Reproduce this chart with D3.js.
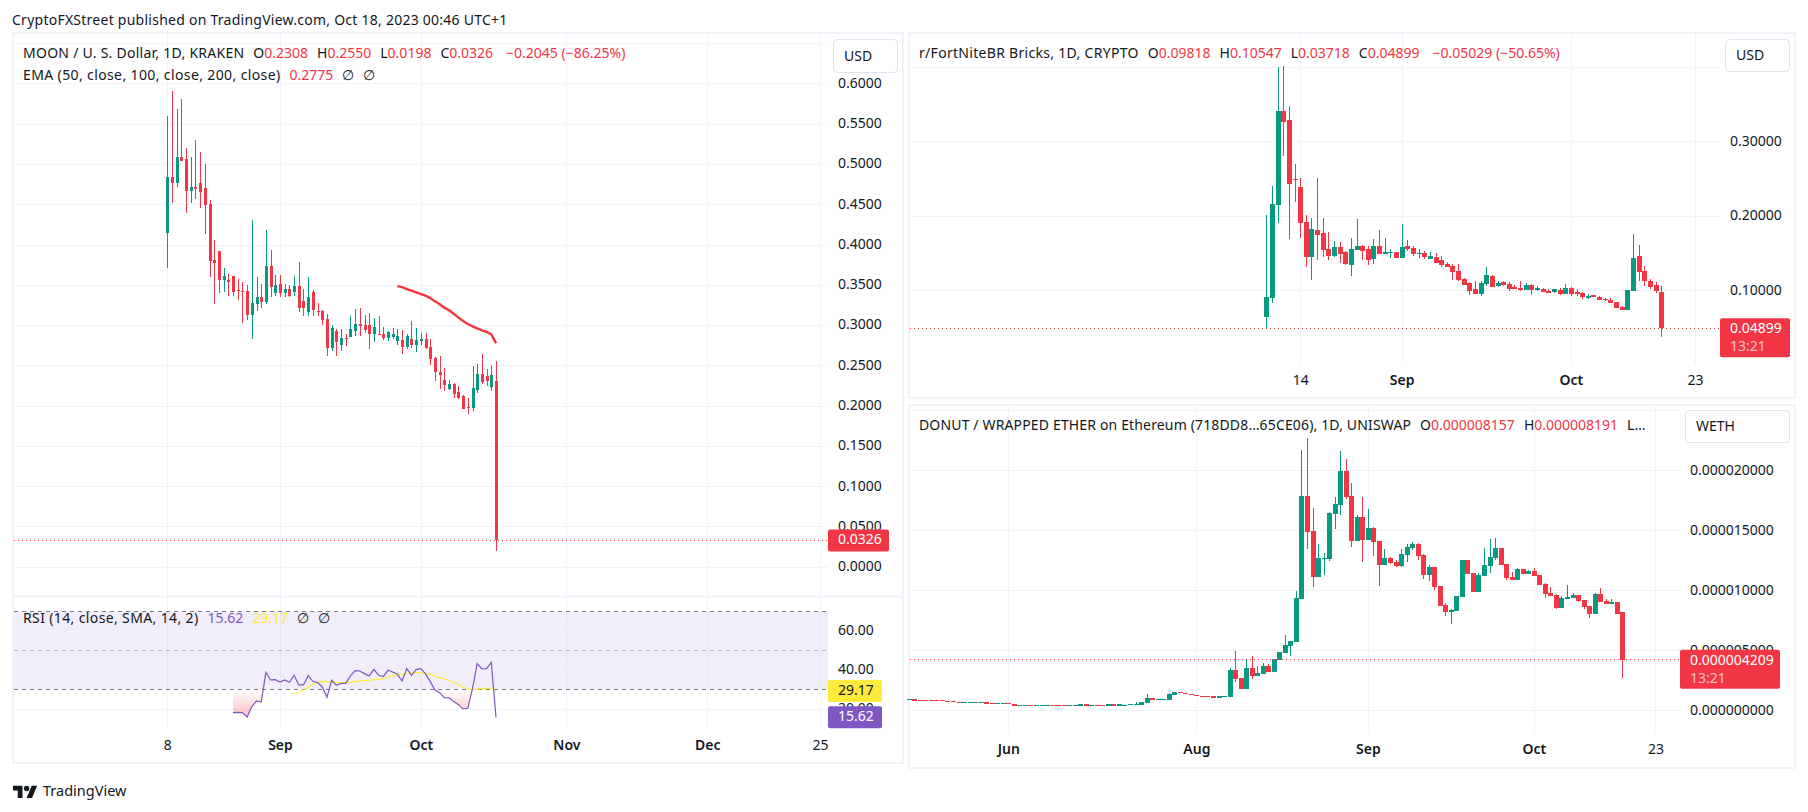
<!DOCTYPE html>
<html lang="en">
<head>
<meta charset="UTF-8">
<title>MOON, Bricks and DONUT daily charts</title>
<script src="https://d3js.org/d3.v7.min.js"></script>
<style>
  html, body { margin: 0; background: #fff; }
  svg { display: block; font-family: "Noto Sans", sans-serif; }
  text { fill: #131722; font-size: 14px; }
</style>
</head>
<body>
<svg id="chart" width="1808" height="812"></svg>
<script>
// MOON / USD, bar 0 = Aug 8
const moonOpen = [.4141,.4843,.4761,.5091,.5066,.4661,.4719,.4769,.4707,.4508,.3802,.3914,.3554,.3554,.3604,.3430,.3418,.3418,.3121,.3257,.3344,.3282,.3728,.3393,.3505,.3393,.3443,.3406,.3480,.3294,.3158,.3406,.3170,.3170,.3071,.2712,.2923,.2749,.2836,.2848,.2923,.3009,.2997,.2997,.2885,.2885,.2885,.2836,.2848,.2799,.2811,.2724,.2824,.2749,.2799,.2824,.2724,.2588,.2415,.2316,.2204,.2266,.2167,.2117,.1981,.1969,.2192,.2390,.2365,.2229,.2308];
const moonHigh = [.5599,.5909,.5682,.5806,.5199,.5083,.5298,.5149,.5000,.4554,.4050,.3914,.3703,.3629,.3604,.3567,.3530,.3492,.4310,.3592,.3505,.4182,.3926,.3616,.3616,.3505,.3492,.3604,.3777,.3443,.3592,.3430,.3269,.3182,.3133,.2997,.2947,.2947,.2885,.3108,.3195,.3207,.3121,.3145,.3084,.3108,.2972,.2923,.2960,.2947,.2935,.2885,.3046,.2960,.2898,.2898,.2824,.2601,.2613,.2464,.2316,.2278,.2241,.2130,.2092,.2489,.2514,.2638,.2452,.2501,.2550];
const moonLow = [.3707,.4513,.4711,.5033,.4389,.4513,.4566,.4451,.4133,.3595,.3257,.3397,.3406,.3360,.3356,.3307,.3026,.3059,.2828,.3174,.3207,.3257,.3348,.3356,.3344,.3344,.3344,.3356,.3158,.3108,.3108,.3108,.3108,.2997,.2613,.2675,.2613,.2675,.2737,.2848,.2861,.2861,.2898,.2700,.2786,.2873,.2811,.2799,.2824,.2749,.2638,.2700,.2712,.2662,.2749,.2700,.2501,.2303,.2204,.2179,.2192,.2092,.2080,.1956,.1894,.1931,.2154,.2266,.2241,.2179,.0198];
const moonClose = [.4843,.4761,.5091,.5042,.4661,.4719,.4694,.4649,.4496,.3794,.3769,.3554,.3604,.3530,.3406,.3418,.3406,.3121,.3269,.3344,.3282,.3728,.3467,.3492,.3393,.3443,.3356,.3480,.3207,.3207,.3344,.3182,.3158,.3059,.2712,.2960,.2786,.2836,.2824,.2947,.3009,.2985,.2935,.2885,.2972,.2873,.2836,.2910,.2885,.2861,.2724,.2861,.2749,.2811,.2824,.2712,.2576,.2415,.2378,.2254,.2266,.2142,.2092,.1956,.1969,.2216,.2390,.2291,.2303,.2378,.0326];
// EMA 50 starts at bar 49
const moonEma = [.3484,.3472,.3447,.3426,.3406,.3385,.3364,.3335,.3294,.3257,.3216,.3183,.3141,.3092,.3051,.3013,.2984,.2960,.2935,.2914,.2885,.2775];
// RSI starts at bar 14, its average at bar 27
const moonRsi = [18.03,18.21,18.03,15.81,21.11,24.02,23.50,38.72,34.79,34.96,33.76,34.79,33.59,37.18,32.22,32.22,37.01,34.10,33.42,31.20,25.90,34.62,32.05,33.08,33.08,36.84,39.57,39.40,38.03,36.84,40.26,37.18,36.50,39.74,38.89,37.69,34.27,40.60,37.18,40.09,40.60,37.86,33.93,29.66,28.29,25.73,25.56,23.68,22.14,19.91,20.26,30.51,43.16,40.43,40.60,43.85,15.62];
const moonRsiMa = [27.61,28.46,29.66,31.03,32.74,33.42,33.93,33.93,33.76,33.42,33.42,33.59,33.76,34.10,34.27,34.44,34.62,34.96,35.13,35.30,36.32,36.84,37.18,37.69,38.03,38.38,38.55,38.55,38.21,37.52,36.67,35.98,35.30,34.62,33.59,32.39,31.03,30.34,29.66,30.17,30.34,30.51,30.51,29.17];
const moonPriceTicks = [0,.05,.1,.15,.2,.25,.3,.35,.4,.45,.5,.55,.6,.65];
const moonRsiTicks = [20,40,60];
const moonTimeBars = [0,24,54,85,115,139];
const moonTimeLabels = ["8","Sep","Oct","Nov","Dec","25"];

// r/FortNiteBR Bricks, bar 0 = Aug 8
const bricksOpen = [.0641,.0896,.2148,.3413,.3292,.2498,.2390,.1919,.1448,.1812,.1771,.1556,.1462,.1583,.1515,.1340,.1542,.1596,.1556,.1421,.1596,.1488,.1502,.1515,.1435,.1596,.1569,.1488,.1502,.1421,.1448,.1408,.1354,.1327,.1260,.1152,.1098,.1017,.0950,.1085,.1192,.1058,.1112,.1085,.1044,.1031,.1004,.1071,.1004,.1017,.0991,.0977,.1004,.0950,.1031,.0977,.0964,.0896,.0937,.0910,.0883,.0869,.0842,.0775,.0735,.0991,.1462,.1260,.1125,.1071,.09818];
const bricksHigh = [.2013,.2404,.3992,.4010,.3480,.2700,.2511,.2013,.1973,.2511,.1973,.1785,.1663,.1650,.1529,.1704,.1960,.1610,.1596,.1690,.1812,.1704,.1556,.1515,.1892,.1677,.1596,.1556,.1529,.1515,.1502,.1462,.1381,.1354,.1354,.1166,.1112,.1125,.1125,.1314,.1206,.1125,.1125,.1112,.1071,.1125,.1098,.1085,.1058,.1031,.1017,.1017,.1031,.1085,.1044,.1017,.0977,.0950,.0937,.0923,.0896,.0896,.0842,.0789,.1004,.1758,.1610,.1327,.1152,.1112,.10547];
const bricksLow = [.0488,.0829,.1906,.2808,.1690,.2188,.1704,.1314,.1139,.1408,.1448,.1408,.1448,.1367,.1340,.1192,.1542,.1408,.1340,.1354,.1488,.1488,.1435,.1435,.1435,.1529,.1462,.1435,.1421,.1421,.1367,.1314,.1314,.1139,.1125,.1071,.0937,.0950,.0923,.1058,.1044,.1044,.1058,.0991,.1017,.0991,.1004,.0937,.0991,.0977,.0964,.0964,.0937,.0950,.0923,.0923,.0883,.0883,.0910,.0869,.0856,.0829,.0762,.0735,.0735,.0991,.1125,.1058,.1017,.0964,.03718];
const bricksClose = [.0910,.2162,.3413,.3265,.2431,.2475,.1906,.1448,.1825,.1744,.1542,.1462,.1583,.1488,.1354,.1556,.1596,.1529,.1408,.1596,.1488,.1515,.1515,.1435,.1583,.1556,.1488,.1502,.1448,.1462,.1367,.1340,.1314,.1246,.1139,.1071,.0991,.0950,.1098,.1206,.1044,.1098,.1071,.1017,.1017,.1004,.1071,.1004,.1031,.0977,.0964,.1017,.0950,.1031,.0950,.0950,.0910,.0923,.0910,.0869,.0869,.0829,.0762,.0735,.1004,.1435,.1246,.1125,.1044,.0991,.04899];
const bricksPriceTicks = [.1,.2,.3,.4];
const bricksTimeBars = [6,24,54,76];
const bricksTimeLabels = ["14","Sep","Oct","23"];

// DONUT / WETH in millionths of a WETH, bars are trading days only (bar 129 = Oct 17)
const donutOpen = [.89,.92,.86,.86,.86,.86,.86,.81,.78,.69,.64,.64,.64,.64,.67,.61,.56,.56,.61,.53,.39,.39,.44,.39,.39,.39,.44,.44,.44,.39,.39,.39,.53,.39,.44,.44,.39,.53,.39,.42,.44,.47,.44,.64,1.00,.89,.89,.89,1.28,1.50,1.42,1.36,1.28,1.22,1.22,1.19,1.06,1.14,1.14,3.36,2.69,1.78,3.53,2.86,3.03,3.69,3.19,4.19,4.78,5.36,5.69,9.28,17.86,14.94,11.11,12.61,12.61,16.36,17.11,19.94,17.86,14.11,16.11,14.19,15.19,14.11,12.11,12.69,12.36,12.03,12.94,13.53,13.86,12.94,11.28,11.94,10.36,8.78,8.19,8.28,9.44,12.53,11.44,9.86,11.19,12.03,12.69,13.53,12.19,11.11,10.86,11.78,11.36,11.61,11.28,10.53,9.78,9.61,8.53,9.28,9.36,9.61,9.19,8.69,8.03,9.69,9.11,8.86,9.03,8.157];
const donutHigh = [.92,.92,.86,.86,.86,.86,.86,.81,.78,.69,.67,.67,.69,.67,.67,.61,.58,.58,.61,.53,.42,.42,.44,.42,.42,.42,.44,.44,.44,.42,.42,.53,.53,.42,.44,.44,.53,.53,.53,.47,.50,.69,.67,1.36,1.00,.92,.94,1.42,1.50,1.50,1.42,1.36,1.28,1.22,1.22,1.19,1.19,1.19,3.53,4.94,2.69,4.28,4.53,3.69,3.92,3.86,4.28,4.86,6.28,5.78,9.94,21.69,22.67,16.86,13.86,13.11,16.53,17.78,21.61,20.94,18.94,16.28,17.78,16.78,15.28,14.11,13.44,12.78,12.53,13.44,13.86,14.03,13.94,13.03,12.11,11.94,10.36,8.94,8.44,9.53,12.53,12.53,11.44,11.44,13.53,14.28,14.36,13.53,12.19,11.53,11.86,11.78,11.69,11.86,11.28,10.61,10.28,9.69,9.53,10.44,9.78,9.61,9.19,8.69,9.78,10.19,9.28,9.28,9.03,8.191];
const donutLow = [.89,.81,.83,.83,.83,.83,.75,.75,.67,.64,.64,.64,.64,.64,.56,.56,.56,.56,.50,.39,.39,.39,.39,.39,.39,.39,.39,.39,.39,.39,.39,.39,.39,.39,.39,.39,.39,.39,.39,.42,.44,.47,.44,.64,.89,.89,.89,.89,1.28,1.42,1.33,1.25,1.17,1.17,1.17,1.06,1.06,1.14,1.14,2.39,1.78,1.78,2.61,2.86,3.03,3.19,3.19,4.19,4.78,4.53,5.69,9.28,13.44,10.28,11.11,11.28,12.44,15.11,16.28,17.61,13.61,14.11,12.36,14.19,12.86,10.36,12.11,12.19,11.94,11.94,12.36,13.36,12.53,10.94,10.78,10.03,8.69,7.86,7.19,8.28,9.44,11.36,9.86,9.86,11.19,11.44,12.53,12.11,10.86,10.86,10.86,11.36,11.36,11.19,10.44,9.36,9.53,8.44,8.53,9.28,9.36,9.03,8.44,7.69,8.03,9.03,8.86,8.86,8.03,2.69];
const donutClose = [.92,.81,.83,.83,.83,.83,.75,.75,.67,.64,.67,.67,.69,.67,.56,.56,.58,.58,.50,.39,.42,.42,.39,.42,.42,.42,.39,.39,.39,.42,.42,.53,.39,.42,.39,.39,.53,.39,.53,.47,.50,.50,.67,1.03,.89,.92,.94,1.36,1.50,1.42,1.33,1.25,1.17,1.17,1.17,1.06,1.19,1.19,3.36,2.64,1.78,3.53,2.86,3.11,3.69,3.19,4.28,4.86,5.44,5.78,9.36,17.86,14.86,11.11,12.69,12.69,16.44,17.19,19.94,17.78,14.11,16.11,14.19,15.19,14.03,12.11,12.69,12.28,12.03,13.03,13.61,13.86,12.86,11.28,11.94,10.28,8.69,8.19,8.36,9.53,12.53,11.36,9.86,11.28,12.11,12.78,13.53,12.11,11.03,10.86,11.78,11.36,11.61,11.19,10.44,9.69,9.53,8.53,9.36,9.44,9.61,9.11,8.61,8.03,9.69,9.03,8.86,9.03,8.03,4.209];
const donutPriceTicks = [0,5,10,15,20,25];
const donutTimeBars = [18,52,83,113,135];
const donutTimeLabels = ["Jun","Aug","Sep","Oct","23"];

const UP = "#089981", DOWN = "#f23645", GRID = "#f0f3fa", INK = "#131722";
const svg = d3.select("#chart");

function panel(x0, y0, x1, y1) {
  svg.append("rect").attr("x", x0).attr("y", y0).attr("width", x1 - x0).attr("height", y1 - y0)
    .attr("fill", "#fff").attr("stroke", GRID).attr("stroke-width", 2);
}

// grid and labels of a pane come from the axes, the tick line is the grid line
function priceAxis(y, ticks, fmt, paneL, paneR, pad) {
  const g = svg.append("g").attr("transform", `translate(${paneR},0)`)
    .call(d3.axisRight(y).tickValues(ticks).tickFormat(fmt).tickSize(paneL - paneR).tickPadding(pad));
  g.select(".domain").remove();
  g.selectAll("line").attr("stroke", GRID).attr("shape-rendering", "crispEdges");
  g.selectAll("text").attr("dy", ".28em").style("fill", INK).style("font-family", "Noto Sans").style("font-size", "14px");
}

function timeAxis(x, bars, labels, top, bottom, pad) {
  const g = svg.append("g").attr("transform", `translate(0,${bottom})`)
    .call(d3.axisBottom(x).tickValues(bars).tickFormat((d, i) => labels[i]).tickSize(top - bottom).tickPadding(pad));
  g.select(".domain").remove();
  g.selectAll("line").attr("stroke", GRID).attr("shape-rendering", "crispEdges");
  g.selectAll("text").attr("dy", ".71em").style("fill", INK).style("font-family", "Noto Sans").style("font-size", "14px")
    .style("font-weight", d => isNaN(labels[bars.indexOf(d)]) ? 600 : 400);
}

function candles(x, y, open, high, low, close, bodyW) {
  const rows = open.map((o, i) => ({ i, o, h: high[i], l: low[i], c: close[i] }));
  const g = svg.append("g").attr("shape-rendering", "crispEdges");
  const col = d => d.c >= d.o ? UP : DOWN;
  g.selectAll("line").data(rows).join("line")
    .attr("x1", d => Math.round(x(d.i))).attr("x2", d => Math.round(x(d.i)))
    .attr("y1", d => y(d.h)).attr("y2", d => y(d.l))
    .attr("stroke", col).attr("stroke-width", 1);
  g.selectAll("rect").data(rows).join("rect")
    .attr("x", d => Math.round(x(d.i)) - Math.floor(bodyW / 2))
    .attr("width", bodyW)
    .attr("y", d => y(Math.max(d.o, d.c)))
    .attr("height", d => Math.max(1, Math.abs(y(d.o) - y(d.c))))
    .attr("fill", col);
}

function priceLine(x0, x1, yPos) {
  svg.append("line").attr("x1", x0).attr("x2", x1).attr("y1", yPos).attr("y2", yPos)
    .attr("stroke", DOWN).attr("stroke-dasharray", "1 3").attr("shape-rendering", "crispEdges");
}

function tag(x0, x1, yPos, h, fill, txt, txtColor, textX, sub) {
  svg.append("rect").attr("x", x0).attr("y", yPos).attr("width", x1 - x0).attr("height", h)
    .attr("rx", 2).attr("fill", fill);
  svg.append("text").attr("x", textX).attr("y", yPos + 15).style("fill", txtColor).text(txt);
  if (sub) svg.append("text").attr("x", textX).attr("y", yPos + 33).style("fill", "rgba(255,255,255,.7)").text(sub);
}

function button(x0, x1, y0, y1, txt, textX) {
  svg.append("rect").attr("x", x0 + .5).attr("y", y0 + .5).attr("width", x1 - x0).attr("height", y1 - y0)
    .attr("rx", 4).attr("fill", "#fff").attr("stroke", "#e0e3eb");
  svg.append("text").attr("x", textX).attr("y", (y0 + y1) / 2 + 5).text(txt);
}

// parts: [text, colour, gap before, letter spacing]
function legend(xPos, yPos, parts) {
  const t = svg.append("text").attr("x", xPos).attr("y", yPos);
  parts.forEach(p => t.append("tspan").attr("dx", p[2] || 0).style("fill", p[1] || INK)
    .style("letter-spacing", (p[3] || 0) + "px").text(p[0]));
}

function ohlc(o, h, l, c) {
  return [["O", INK, 9], [o, DOWN], ["H", INK, 9], [h, DOWN], ["L", INK, 9], [l, DOWN], ["C", INK, 9], [c, DOWN]];
}

// ---- header and footer
svg.append("text").attr("x", 12).attr("y", 25).style("letter-spacing", ".25px")
  .text("CryptoFXStreet published on TradingView.com, Oct 18, 2023 00:46 UTC+1");
const logo = svg.append("g").attr("transform", "translate(13,783) scale(.68)").attr("fill", INK);
logo.append("path").attr("d", "M14 22H7V11H0V4h14v18zM28 22h-8l7.5-18h8L28 22z");
logo.append("circle").attr("cx", 20).attr("cy", 8).attr("r", 4);
svg.append("text").attr("x", 43).attr("y", 796).style("font-size", "14.5px").text("TradingView");

// ---- MOON
panel(13, 33, 903, 763);
const moonX = d3.scaleLinear().domain([0, 139]).range([167.3, 820]);
const moonY = d3.scaleLinear().domain([0, .6]).range([566.7, 83.4]);
const rsiY = d3.scaleLinear().domain([30, 70]).range([689.3, 611.3]);
timeAxis(moonX, moonTimeBars, moonTimeLabels, 34, 728, 12);
svg.append("rect").attr("x", 14).attr("y", rsiY(70)).attr("width", 814).attr("height", rsiY(30) - rsiY(70))
  .attr("fill", "#7e57c2").attr("fill-opacity", .1);
priceAxis(moonY, moonPriceTicks, d => d > .6 ? "" : d3.format(".4f")(d), 14, 828, 10);
svg.append("line").attr("x1", 14).attr("x2", 903).attr("y1", 596.5).attr("y2", 596.5).attr("stroke", GRID).attr("stroke-width", 2);
priceAxis(rsiY, moonRsiTicks, d3.format(".2f"), 14, 828, 10);
[[70, "#787b86"], [50, "#b9bbc2"], [30, "#787b86"]].forEach(([v, c]) => {
  svg.append("line").attr("x1", 14).attr("x2", 828).attr("y1", rsiY(v)).attr("y2", rsiY(v))
    .attr("stroke", c).attr("stroke-dasharray", "4 4").attr("shape-rendering", "crispEdges");
});

candles(moonX, moonY, moonOpen, moonHigh, moonLow, moonClose, 3);
svg.append("path").attr("fill", "none").attr("stroke", "#f8333c").attr("stroke-width", 2.4)
  .attr("d", d3.line().x((d, i) => moonX(i + 49)).y(d => moonY(d))(moonEma));
priceLine(14, 828, moonY(moonClose[moonClose.length - 1]));

// oversold fill between 30 and the RSI line
const defs = svg.append("defs");
defs.append("clipPath").attr("id", "oversold").append("rect")
  .attr("x", 14).attr("y", rsiY(30)).attr("width", 814).attr("height", 39);
const grad = defs.append("linearGradient").attr("id", "oversoldFill")
  .attr("x1", 0).attr("x2", 0).attr("gradientUnits", "userSpaceOnUse")
  .attr("y1", rsiY(30)).attr("y2", rsiY(15));
grad.append("stop").attr("offset", 0).attr("stop-color", DOWN).attr("stop-opacity", 0);
grad.append("stop").attr("offset", 1).attr("stop-color", DOWN).attr("stop-opacity", .35);
svg.append("path").attr("clip-path", "url(#oversold)").attr("fill", "url(#oversoldFill)")
  .attr("d", d3.area().x((d, i) => moonX(i + 14)).y0(rsiY(30)).y1(d => rsiY(d))(moonRsi.slice(0, 56)));
svg.append("path").attr("fill", "none").attr("stroke", "#ffeb3b").attr("stroke-width", 1.2)
  .attr("d", d3.line().x((d, i) => moonX(i + 27)).y(d => rsiY(d))(moonRsiMa));
svg.append("path").attr("fill", "none").attr("stroke", "#7e57c2").attr("stroke-width", 1.2)
  .attr("d", d3.line().x((d, i) => moonX(i + 14)).y(d => rsiY(d))(moonRsi));

legend(23, 58, [["MOON / U. S. Dollar, 1D, KRAKEN", INK, 0, .26], ...ohlc("0.2308", "0.2550", "0.0198", "0.0326"), ["−0.2045 (−86.25%)", DOWN, 13]]);
legend(23, 80, [["EMA (50, close, 100, close, 200, close)", INK, 0, .38], ["0.2775", DOWN, 9], ["∅", INK, 9], ["∅", INK, 9]]);
legend(23, 623, [["RSI (14, close, SMA, 14, 2)", INK, 0, .37], ["15.62", "#7e57c2", 9], ["29.17", "#ffeb3b", 9], ["∅", INK, 9], ["∅", INK, 9]]);
button(833, 897, 39, 72, "USD", 844);
tag(828, 889, moonY(.0326) - 11, 22, DOWN, "0.0326", "#fff", 838);
tag(828, 882, rsiY(29.17) - 11, 22, "#ffeb3b", "29.17", INK, 838);
tag(828, 882, rsiY(15.62) - 11, 22, "#7e57c2", "15.62", "#fff", 838);

// ---- Bricks
panel(909, 33, 1795, 398);
const bricksX = d3.scaleLinear().domain([0, 76]).range([1266.3, 1695]);
const bricksY = d3.scaleLinear().domain([.1, .3]).range([290.2, 141.3]);
timeAxis(bricksX, bricksTimeBars, bricksTimeLabels, 34, 364, 11);
priceAxis(bricksY, bricksPriceTicks, d => d > .3 ? "" : d3.format(".5f")(d), 910, 1720, 10);
candles(bricksX, bricksY, bricksOpen, bricksHigh, bricksLow, bricksClose, 5);
priceLine(910, 1720, bricksY(.04899));
legend(919, 58, [["r/FortNiteBR Bricks, 1D, CRYPTO", INK, 0, .3], ...ohlc("0.09818", "0.10547", "0.03718", "0.04899"), ["−0.05029 (−50.65%)", DOWN, 13]]);
button(1725, 1789, 39, 71, "USD", 1736);
tag(1720, 1790, bricksY(.04899) - 10, 39, DOWN, "0.04899", "#fff", 1730, "13:21");

// ---- DONUT
panel(909, 405, 1795, 768);
const donutX = d3.scaleLinear().domain([129, 113]).range([1622.3, 1533.8]);
const donutY = d3.scaleLinear().domain([0, 20]).range([710.3, 470.3]);
timeAxis(donutX, donutTimeBars, donutTimeLabels, 406, 733, 11);
priceAxis(donutY, donutPriceTicks, d => d > 20 ? "" : d3.format(".9f")(d * 1e-6), 910, 1680, 10);
candles(donutX, donutY, donutOpen, donutHigh, donutLow, donutClose, 5);
priceLine(910, 1680, donutY(4.209));
legend(919, 430, [["DONUT / WRAPPED ETHER on Ethereum (718DD8…65CE06), 1D, UNISWAP", INK, 0, .15], ["O", INK, 9], ["0.000008157", DOWN], ["H", INK, 9], ["0.000008191", DOWN], ["L…", INK, 9]]);
button(1685, 1789, 410, 442, "WETH", 1696);
tag(1680, 1780, donutY(4.209) - 10, 39, DOWN, "0.000004209", "#fff", 1690, "13:21");
</script>
</body>
</html>
